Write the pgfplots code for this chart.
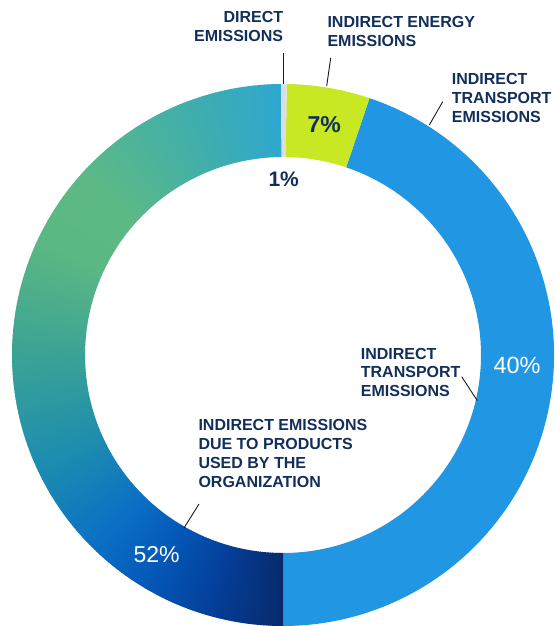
\documentclass[border=0pt]{standalone}
\usepackage{fontspec}
\setmainfont{Liberation Sans}
\usepackage{pgfplots}
\usepackage{pgfplotstable}
\pgfplotsset{compat=1.18}
\definecolor{navytxt}{HTML}{122E5B}
\definecolor{cgray}{HTML}{D9DEE2}
\definecolor{clime}{HTML}{C8E823}
\definecolor{cblue}{HTML}{2196E3}
\definecolor{leader}{HTML}{1A1A1A}
% conic gradient stops of the largest slice
\definecolor{g0}{HTML}{082A6C}
\definecolor{g1}{HTML}{043E98}
\definecolor{g2}{HTML}{0457B7}
\definecolor{g3}{HTML}{0B70C4}
\definecolor{g4}{HTML}{1C8CB0}
\definecolor{g5}{HTML}{3BA395}
\definecolor{g6}{HTML}{5BB783}
\definecolor{g7}{HTML}{5EBA84}
\definecolor{g8}{HTML}{44B0A6}
\definecolor{g9}{HTML}{2EA7CF}

% shares of the ring as drawn (percent of the full circle), clockwise from top
\pgfplotstableread{
name share
direct 0.33
energy 4.95
transport 44.83
products 49.89
}\slices

\newcommand{\Rout}{271pt}
\newcommand{\Rin}{198pt}
% #1 colour, #2 start, #3 end (degrees clockwise from 12 o'clock)
\newcommand{\donutslice}[3]{%
  \pgfmathsetmacro\aS{90-#2}\pgfmathsetmacro\aE{90-#3}%
  \fill[#1] ([shift={(\aS:\Rout)}]axis cs:0,0) arc[start angle=\aS,end angle=\aE,radius=\Rout]
    -- ([shift={(\aE:\Rin)}]axis cs:0,0) arc[start angle=\aE,end angle=\aS,radius=\Rin] -- cycle;}

\begin{document}
\begin{tikzpicture}
\begin{axis}[
  x=1pt, y=1pt,
  xmin=-283, xmax=271, ymin=-271, ymax=355,
  hide axis, clip=false,
]
\addplot[draw=none, forget plot] coordinates {(0,0)};
\coordinate (BL) at (axis cs:-283,-271);
\coordinate (TR) at (axis cs:271,355);
\pgfplotsextra{%
  \pgfplotstablegetelem{0}{share}\of\slices \pgfmathsetmacro\sA{\pgfplotsretval}%
  \pgfplotstablegetelem{1}{share}\of\slices \pgfmathsetmacro\sB{\pgfplotsretval}%
  \pgfplotstablegetelem{2}{share}\of\slices \pgfmathsetmacro\sC{\pgfplotsretval}%
  \pgfplotstablegetelem{3}{share}\of\slices \pgfmathsetmacro\sD{\pgfplotsretval}%
  \pgfmathsetmacro\tZero{-0.4}%
  \pgfmathsetmacro\tA{\tZero+3.6*\sA}%
  \pgfmathsetmacro\tB{\tA+3.6*\sB}%
  \pgfmathsetmacro\tC{\tB+3.6*\sC}%
  \pgfmathsetmacro\tD{\tC+3.6*\sD}%
  % blue and lime slices
  \donutslice{cblue}{\tB}{\tC}%
  \donutslice{clime}{\tA}{\tB}%
  % gradient slice, drawn as thin wedges
  \foreach \ta/\tb/\ca/\cb in {180/195/g0/g1,195/210/g1/g2,210/225/g2/g3,225/245/g3/g4,245/270/g4/g5,270/295/g5/g6,295/310/g6/g7,310/335/g7/g8,335/359.6/g8/g9}{%
    \pgfmathtruncatemacro\n{(\tb-\ta)*2}%
    \foreach \i in {1,...,\n}{%
      \pgfmathsetmacro\s{\ta+(\i-1)*0.5}%
      \pgfmathsetmacro\e{min(\s+0.65,\tD)}%
      \pgfmathsetmacro\p{100*(\i-0.5)/\n}%
      \colorlet{cc}{\cb!\p!\ca}%
      \donutslice{cc}{\s}{\e}%
    }%
  }%
  \donutslice{cgray}{\tZero}{\tA}%
  % leader lines
  \draw[leader, line width=0.9pt] (axis cs:0,271) -- (axis cs:0,302);
  \draw[leader, line width=0.9pt] (axis cs:43.7,269) -- (axis cs:47.7,297);
  \draw[leader, line width=0.9pt] (axis cs:146.3,230) -- (axis cs:159.7,253.3);
  \draw[leader, line width=0.9pt] (axis cs:178.7,-21.7) -- (axis cs:194.3,-45.7);
  \draw[leader, line width=0.9pt] (axis cs:-84,-149) -- (axis cs:-99,-173);
}
% category labels
\begin{scope}[every node/.style={inner sep=0pt, text=navytxt, font=\fontsize{16}{19}\selectfont\bfseries}]
\node[anchor=base east] at (axis cs:0.3,332.3) {DIRECT};
\node[anchor=base east] at (axis cs:0.3,313.3) {EMISSIONS};
\node[anchor=base west] at (axis cs:44.3,327.4) {INDIRECT ENERGY};
\node[anchor=base west] at (axis cs:44.3,308.6) {EMISSIONS};
\node[anchor=base west] at (axis cs:168.7,270) {INDIRECT};
\node[anchor=base west] at (axis cs:168.7,251) {TRANSPORT};
\node[anchor=base west] at (axis cs:168.7,232) {EMISSIONS};
\node[anchor=base west] at (axis cs:77.7,-4.3) {INDIRECT};
\node[anchor=base west] at (axis cs:77.7,-23) {TRANSPORT};
\node[anchor=base west] at (axis cs:77.7,-42) {EMISSIONS};
\node[anchor=base west] at (axis cs:-84.7,-76) {INDIRECT EMISSIONS};
\node[anchor=base west] at (axis cs:-84.7,-95) {DUE TO PRODUCTS};
\node[anchor=base west] at (axis cs:-84.7,-114) {USED BY THE};
\node[anchor=base west] at (axis cs:-84.7,-133) {ORGANIZATION};
\end{scope}
% value labels
\node[anchor=base west, inner sep=0pt, text=navytxt, font=\fontsize{23}{26}\selectfont\bfseries] at (axis cs:24.3,222.7) {7\%};
\node[anchor=base west, inner sep=0pt, text=navytxt, font=\fontsize{21}{24}\selectfont\bfseries] at (axis cs:-14.7,168.3) {1\%};
\node[anchor=base west, inner sep=0pt, text=white, font=\fontsize{23.5}{26}\selectfont] at (axis cs:210.3,-18.3) {40\%};
\node[anchor=base west, inner sep=0pt, text=white, font=\fontsize{23}{26}\selectfont] at (axis cs:-149.7,-207.7) {52\%};
\end{axis}
\pgfresetboundingbox
\path[use as bounding box] (BL) rectangle (TR);
\end{tikzpicture}
\end{document}
